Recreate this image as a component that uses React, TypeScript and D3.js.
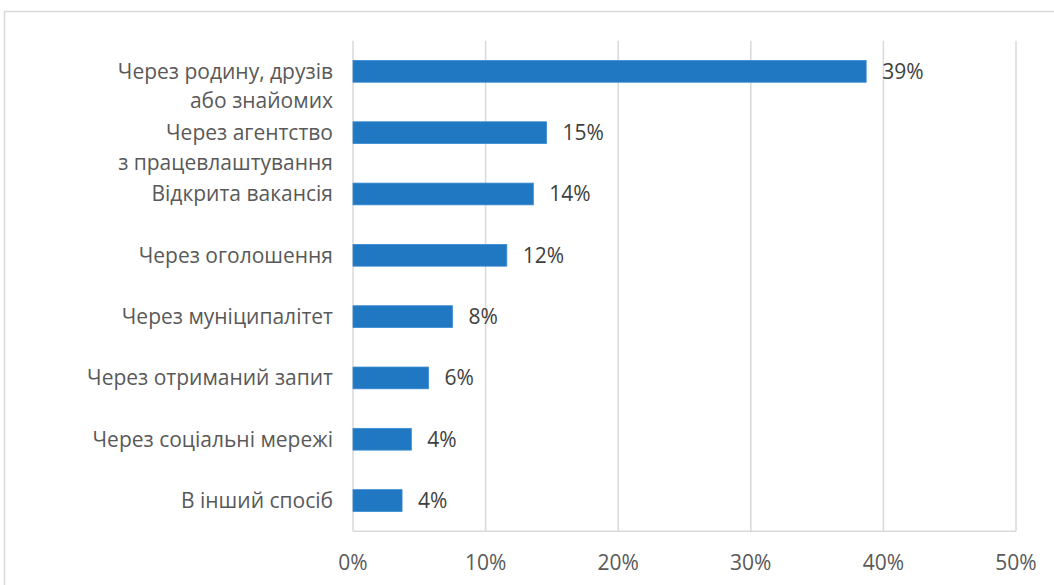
import React from "react";
import * as d3 from "d3";

const categories: string[][] = [
  ["Через родину, друзів", "або знайомих"],
  ["Через агентство", "з працевлаштування"],
  ["Відкрита вакансія"],
  ["Через оголошення"],
  ["Через муніципалітет"],
  ["Через отриманий запит"],
  ["Через соціальні мережі"],
  ["В інший спосіб"],
];
const values: number[] = [38.7, 14.6, 13.6, 11.6, 7.5, 5.7, 4.4, 3.7];
const valueLabels: string[] = ["39%", "15%", "14%", "12%", "8%", "6%", "4%", "4%"];
const ticks: number[] = [0, 10, 20, 30, 40, 50];

const W = 1054;
const H = 585;
const FONT = "'Open Sans', 'Noto Sans', sans-serif";
const FS = 21;

export default function App() {
  const x = d3.scaleLinear().domain([0, 50]).range([353, 1016]);
  const y = d3
    .scaleBand<number>()
    .domain(d3.range(categories.length))
    .range([40.7, 531.2])
    .paddingInner(0.645)
    .paddingOuter(0.3225);
  const bw = y.bandwidth();
  const lineH = 29.5;
  return (
    <svg
      width={W}
      height={H}
      style={{ position: "absolute", left: 0, top: 0, background: "#fff" }}
      fontFamily={FONT}
    >
      <rect x={4.5} y={11.5} width={W + 10} height={H + 10} fill="#fff" stroke="#d9d9d9" strokeWidth={1.5} />
      {ticks.map((t) => (
        <line key={"g" + t} x1={x(t)} x2={x(t)} y1={40.7} y2={531.2} stroke="#d9d9d9" strokeWidth={1.5} />
      ))}
      <line x1={x(0)} x2={x(50)} y1={531.2} y2={531.2} stroke="#d9d9d9" strokeWidth={1.5} />
      {values.map((v, i) => (
        <rect
          key={"b" + i}
          x={x(0)}
          y={y(i)!}
          width={x(v) - x(0)}
          height={bw}
          fill="#1f78c1"
          stroke="#3a8bd0"
          strokeWidth={0.8}
        />
      ))}
      {values.map((v, i) => (
        <text
          key={"v" + i}
          x={x(v) + 16}
          y={y(i)! + bw / 2}
          dy="0.35em"
          fontSize={FS}
          fill="#404040"
        >
          {valueLabels[i]}
        </text>
      ))}
      {categories.map((lines, i) => (
        <text
          key={"c" + i}
          x={333}
          y={y(i)! + bw / 2}
          textAnchor="end"
          fontSize={FS}
          fill="#595959"
        >
          {lines.map((l, j) => (
            <tspan key={j} x={333} dy={j === 0 ? "0.35em" : lineH}>
              {l}
            </tspan>
          ))}
        </text>
      ))}
      {ticks.map((t) => (
        <text
          key={"t" + t}
          x={x(t)}
          y={563}
          dy="0.35em"
          textAnchor="middle"
          fontSize={FS}
          fill="#595959"
        >
          {t + "%"}
        </text>
      ))}
    </svg>
  );
}
